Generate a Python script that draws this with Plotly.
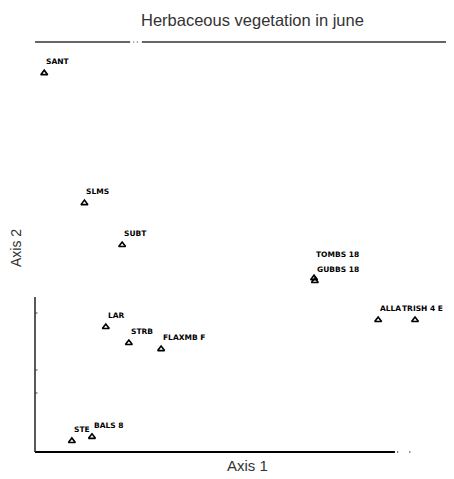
import plotly.graph_objects as go

# Ordination scores (Axis 1, Axis 2)
sites = ["SANT", "SLMS", "SUBT", "TOMBS 18", "GUBBS 18", "ALLA", "TRISH 4 E",
         "LAR", "STRB", "FLAXMB F", "STE", "BALS 8"]
axis1 = [2.2, 11.8, 20.8, 66.6, 66.8, 81.9, 90.7, 16.9, 22.4, 30.1, 8.8, 13.6]
axis2 = [92.4, 60.7, 50.5, 42.4, 41.7, 32.2, 32.2, 30.5, 26.6, 25.1, 2.7, 3.7]

title_text = "Herbaceous vegetation in june"
x_title = "Axis 1"
y_title = "Axis 2"

# label offsets (style only), in pixels
label_shift = {"TOMBS 18": (1, 18), "GUBBS 18": (1, 6), "TRISH 4 E": (-14, 6)}

fig = go.Figure()
fig.add_trace(go.Scatter(
    x=axis1, y=axis2, mode="markers",
    marker=dict(symbol="triangle-up-open", size=6, color="#000",
                line=dict(width=1.6, color="#000")),
    cliponaxis=False, showlegend=False, hoverinfo="text", text=sites,
))

annotations = []
for name, xv, yv in zip(sites, axis1, axis2):
    dx, dy = label_shift.get(name, (1, 6))
    annotations.append(dict(
        text=name, x=xv, y=yv, xref="x", yref="y", showarrow=False,
        xanchor="left", yanchor="bottom", xshift=dx, yshift=dy, borderpad=0,
        font=dict(family="DejaVu Sans", size=7.5, color="#000", weight="bold"),
    ))

shapes = [
    # top border with small gap
    dict(type="line", xref="x domain", yref="y domain", x0=0, x1=0.227, y0=1, y1=1,
         line=dict(color="#333", width=1.5)),
    dict(type="line", xref="x domain", yref="y domain", x0=0.255, x1=1, y0=1, y1=1,
         line=dict(color="#333", width=1.5)),
    # bottom axis
    dict(type="line", xref="x domain", yref="y domain", x0=0, x1=0.859, y0=0, y1=0,
         line=dict(color="#000", width=2)),
    # left axis (partial)
    dict(type="line", xref="x domain", yref="y domain", x0=0, x1=0, y0=0, y1=0.378,
         line=dict(color="#222", width=1.5)),
]
for ty in [0.339, 0.2, 0.144]:
    shapes.append(dict(type="line", xref="x domain", yref="y domain",
                       x0=0, x1=0.006, y0=ty, y1=ty, line=dict(color="#444", width=1)))
for dx in [0.864, 0.893]:
    shapes.append(dict(type="line", xref="x domain", yref="y domain",
                       x0=dx, x1=dx + 0.003, y0=0, y1=0, line=dict(color="#555", width=1.5)))
for dx in [0.234, 0.243]:
    shapes.append(dict(type="line", xref="x domain", yref="y domain",
                       x0=dx, x1=dx + 0.003, y0=1, y1=1, line=dict(color="#666", width=1.2)))

annotations += [
    dict(text=title_text, xref="paper", yref="paper", x=0.520, y=1.054, showarrow=False,
         font=dict(family="Liberation Sans", size=16.5, color="#333"), xanchor="center", yanchor="middle"),
    dict(text=x_title, xref="paper", yref="paper", x=0.508, y=-0.034, showarrow=False,
         font=dict(family="Liberation Sans", size=15, color="#333"), xanchor="center", yanchor="middle"),
    dict(text=y_title, xref="paper", yref="paper", x=-0.045, y=0.498, showarrow=False, textangle=-90,
         font=dict(family="Liberation Sans", size=14, color="#333"), xanchor="center", yanchor="middle"),
]

# page body has an 8px default margin, so the figure is sized to fit 454x479
fig.update_layout(
    width=446, height=471,
    margin=dict(l=27, r=0, t=34, b=27),
    paper_bgcolor="white", plot_bgcolor="white",
    xaxis=dict(range=[0, 100], showgrid=False, zeroline=False, showline=False,
               showticklabels=False, ticks="", fixedrange=True),
    yaxis=dict(range=[0, 100], showgrid=False, zeroline=False, showline=False,
               showticklabels=False, ticks="", fixedrange=True),
    shapes=shapes, annotations=annotations,
)

fig.write_html("out.html")
